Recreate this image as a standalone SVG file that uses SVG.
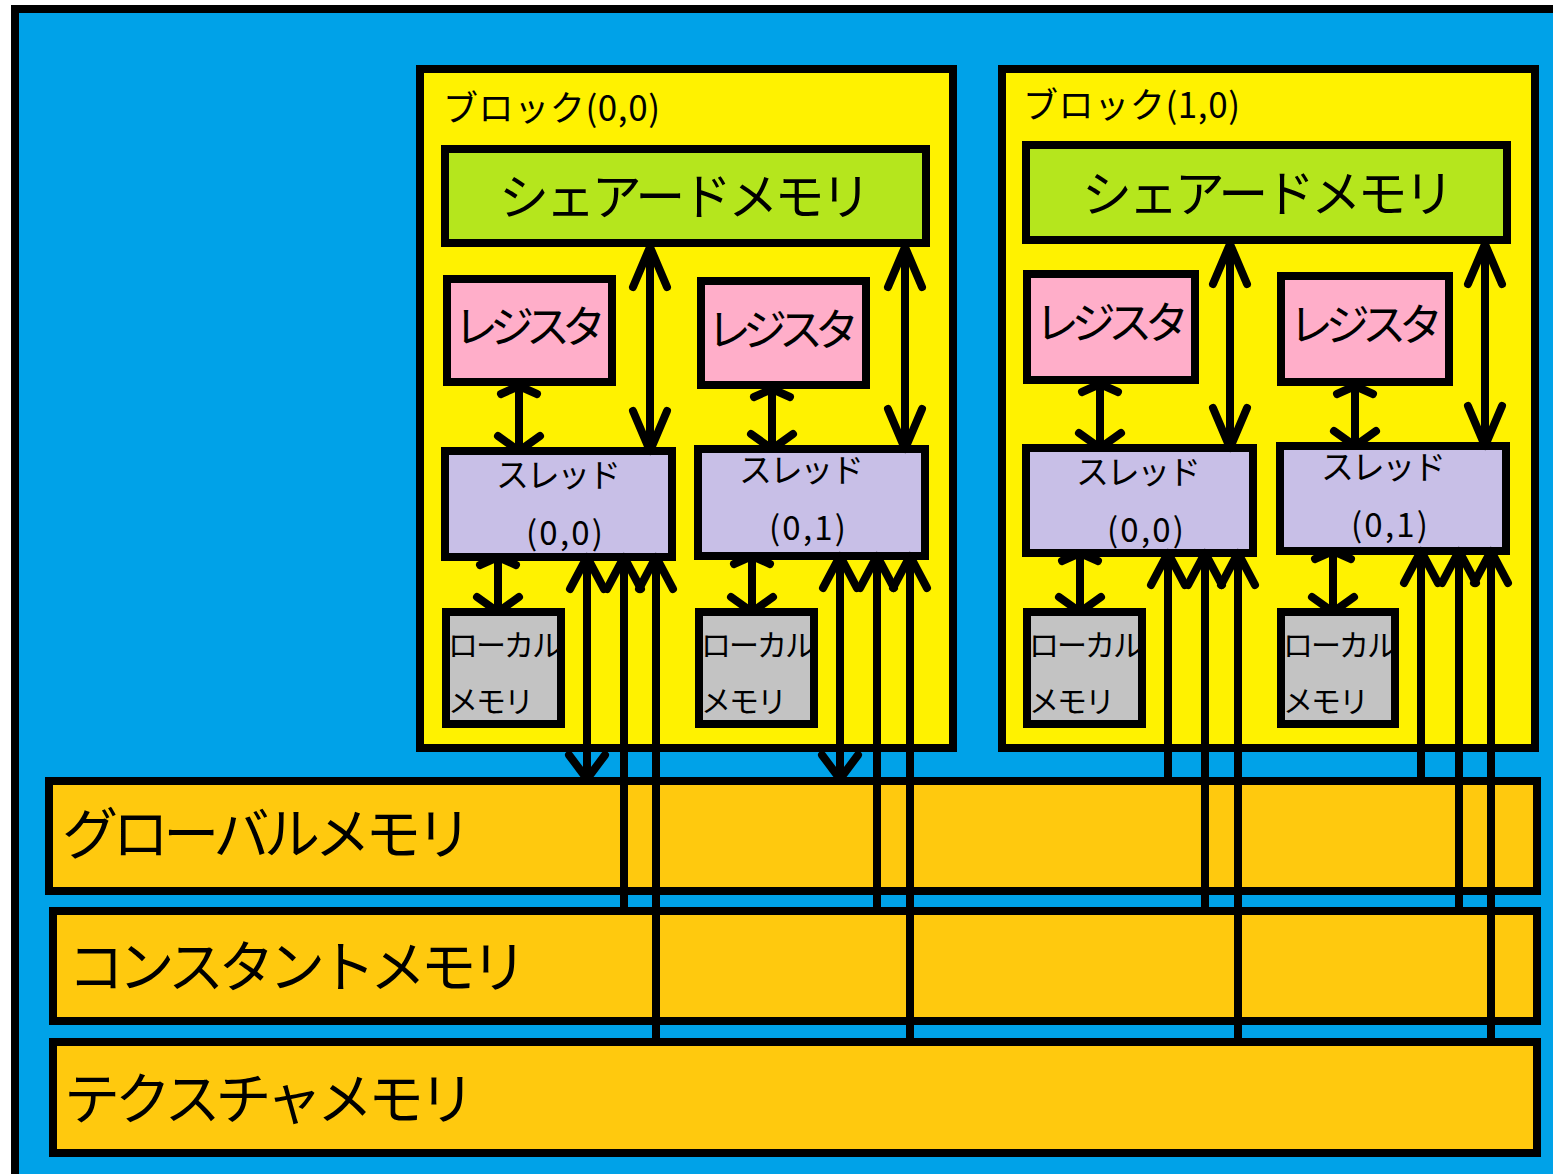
<svg xmlns="http://www.w3.org/2000/svg" width="1553" height="1174" viewBox="0 0 1553 1174">
<style>
text{font-family:"Noto Sans CJK JP","Noto Sans",sans-serif;fill:#000}
.box{stroke:#000;stroke-width:8}
.edge{fill:none;stroke:#000;stroke-width:8}
.blk{fill:#FFF200}
.sh{fill:#B5E61D}
.rg{fill:#FFAEC9}
.th{fill:#C8BFE7}
.lm{fill:#C3C3C3}
.mem{fill:#FFC90E}
.lbl{font-size:35px}
.shT{font-size:50px}
.rgT{font-size:44px}
.thT{font-size:33px}
.lmT{font-size:30px}
.memT{font-size:56px}
.c line{stroke:#000;stroke-width:8;stroke-linecap:round}
</style>
<defs>
<marker id="tall" markerUnits="userSpaceOnUse" orient="auto-start-reverse" refX="0" refY="0" markerWidth="60" markerHeight="60" viewBox="-50 -30 60 60" overflow="visible"><path d="M-40,-17 L0,0 L-40,17" fill="none" stroke="#000" stroke-width="8" stroke-linecap="round" stroke-linejoin="round"/></marker>
<marker id="mid" markerUnits="userSpaceOnUse" orient="auto-start-reverse" refX="0" refY="0" markerWidth="60" markerHeight="60" viewBox="-50 -30 60 60" overflow="visible"><path d="M-32,-17 L0,0 L-32,17" fill="none" stroke="#000" stroke-width="8" stroke-linecap="round" stroke-linejoin="round"/></marker>
<marker id="down" markerUnits="userSpaceOnUse" orient="auto-start-reverse" refX="0" refY="0" markerWidth="60" markerHeight="60" viewBox="-50 -30 60 60" overflow="visible"><path d="M-24,-18 L0,0 L-24,18" fill="none" stroke="#000" stroke-width="8" stroke-linecap="round" stroke-linejoin="round"/></marker>
<marker id="vee" markerUnits="userSpaceOnUse" orient="auto-start-reverse" refX="0" refY="0" markerWidth="60" markerHeight="60" viewBox="-50 -30 60 60" overflow="visible"><path d="M-15,-21 L0,0 L-15,21" fill="none" stroke="#000" stroke-width="8" stroke-linecap="round" stroke-linejoin="round"/></marker>
<marker id="flat" markerUnits="userSpaceOnUse" orient="auto-start-reverse" refX="0" refY="0" markerWidth="60" markerHeight="60" viewBox="-50 -30 60 60" overflow="visible"><path d="M-8,-18 L0,0 L-8,18" fill="none" stroke="#000" stroke-width="8" stroke-linecap="round" stroke-linejoin="round"/></marker>
</defs>
<rect x="0" y="0" width="1553" height="1174" fill="#fff"/>
<rect id="device" x="15" y="9" width="1600" height="1200" fill="#00A2E8" class="box"/>

<g id="global-memory"><rect x="49" y="781" width="1488" height="110" class="box mem"/><text class="memT" x="62" y="854" textLength="410">グローバルメモリ</text></g>
<g id="constant-memory"><rect x="53" y="911" width="1484" height="110" class="box mem"/><text class="memT" x="68" y="987" textLength="459">コンスタントメモリ</text></g>
<g id="texture-memory"><rect x="53" y="1042" width="1484" height="111" class="box mem"/><text class="memT" x="64" y="1119" textLength="411">テクスチャメモリ</text></g>

<g id="block-0-0">
<rect x="420" y="69" width="533" height="679" class="box blk"/>
<text class="lbl" x="443" y="121" textLength="217">ブロック(0,0)</text>
</g>
<g id="block-1-0">
<rect x="1002" y="69" width="533" height="679" class="box blk"/>
<text class="lbl" x="1023" y="118" textLength="217">ブロック(1,0)</text>
</g>

<g id="b0-shared"><rect x="445" y="149" width="481" height="94" class="box sh"/><text class="shT" x="499" y="215" textLength="372">シェアードメモリ</text></g>
<g id="b0-reg0"><rect x="447" y="279" width="165" height="103" class="box rg"/><text class="rgT" x="454" y="343" textLength="152">レジスタ</text></g>
<g id="b0-reg1"><rect x="701" y="281" width="165" height="104" class="box rg"/><text class="rgT" x="707" y="346" textLength="152">レジスタ</text></g>
<g id="b0-thread0"><rect x="445" y="451" width="227" height="106" class="box th"/><text class="thT" x="496" y="487" textLength="125">スレッド</text><text class="thT" x="526" y="545" textLength="77">(0,0)</text></g>
<g id="b0-thread1"><rect x="698" y="449" width="227" height="107" class="box th"/><text class="thT" x="739" y="482" textLength="125">スレッド</text><text class="thT" x="769" y="540" textLength="77">(0,1)</text></g>
<g id="b0-local0"><rect x="446" y="612" width="115" height="112" class="lm"/><text class="lmT" x="448" y="656" textLength="114">ローカル</text><text class="lmT" x="448" y="712" textLength="86">メモリ</text><rect x="446" y="612" width="115" height="112" class="edge"/></g>
<g id="b0-local1"><rect x="699" y="612" width="115" height="112" class="lm"/><text class="lmT" x="701" y="656" textLength="114">ローカル</text><text class="lmT" x="701" y="712" textLength="86">メモリ</text><rect x="699" y="612" width="115" height="112" class="edge"/></g>

<g id="b1-shared"><rect x="1026" y="145" width="481" height="95" class="box sh"/><text class="shT" x="1082" y="212" textLength="372">シェアードメモリ</text></g>
<g id="b1-reg0"><rect x="1027" y="274" width="168" height="106" class="box rg"/><text class="rgT" x="1035" y="339" textLength="154">レジスタ</text></g>
<g id="b1-reg1"><rect x="1281" y="276" width="168" height="106" class="box rg"/><text class="rgT" x="1289" y="341" textLength="154">レジスタ</text></g>
<g id="b1-thread0"><rect x="1026" y="448" width="227" height="105" class="box th"/><text class="thT" x="1076" y="484" textLength="125">スレッド</text><text class="thT" x="1107" y="542" textLength="77">(0,0)</text></g>
<g id="b1-thread1"><rect x="1280" y="446" width="226" height="105" class="box th"/><text class="thT" x="1321" y="479" textLength="125">スレッド</text><text class="thT" x="1351" y="537" textLength="77">(0,1)</text></g>
<g id="b1-local0"><rect x="1027" y="612" width="115" height="112" class="lm"/><text class="lmT" x="1029" y="656" textLength="114">ローカル</text><text class="lmT" x="1029" y="712" textLength="86">メモリ</text><rect x="1027" y="612" width="115" height="112" class="edge"/></g>
<g id="b1-local1"><rect x="1281" y="612" width="114" height="112" class="lm"/><text class="lmT" x="1283" y="656" textLength="114">ローカル</text><text class="lmT" x="1283" y="712" textLength="86">メモリ</text><rect x="1281" y="612" width="114" height="112" class="edge"/></g>

<g id="connectors" class="c">
<line x1="650" y1="247" x2="650" y2="451" marker-start="url(#tall)" marker-end="url(#tall)"/>
<line x1="905" y1="247" x2="905" y2="449" marker-start="url(#tall)" marker-end="url(#tall)"/>
<line x1="1230" y1="244" x2="1230" y2="448" marker-start="url(#tall)" marker-end="url(#tall)"/>
<line x1="1485" y1="244" x2="1485" y2="446" marker-start="url(#tall)" marker-end="url(#tall)"/>
<line x1="519" y1="386" x2="519" y2="451" marker-start="url(#flat)" marker-end="url(#vee)"/>
<line x1="772" y1="389" x2="772" y2="449" marker-start="url(#flat)" marker-end="url(#vee)"/>
<line x1="1100" y1="384" x2="1100" y2="448" marker-start="url(#flat)" marker-end="url(#vee)"/>
<line x1="1355" y1="386" x2="1355" y2="446" marker-start="url(#flat)" marker-end="url(#vee)"/>
<line x1="498" y1="557" x2="498" y2="612" marker-start="url(#flat)" marker-end="url(#vee)"/>
<line x1="752" y1="556" x2="752" y2="612" marker-start="url(#flat)" marker-end="url(#vee)"/>
<line x1="1080" y1="553" x2="1080" y2="612" marker-start="url(#flat)" marker-end="url(#vee)"/>
<line x1="1333" y1="551" x2="1333" y2="612" marker-start="url(#flat)" marker-end="url(#vee)"/>
<line x1="587" y1="557" x2="587" y2="779" marker-start="url(#mid)" marker-end="url(#down)"/>
<line x1="624" y1="557" x2="624" y2="911" marker-start="url(#mid)"/>
<line x1="656" y1="557" x2="656" y2="1042" marker-start="url(#mid)"/>
<line x1="840" y1="556" x2="840" y2="779" marker-start="url(#mid)" marker-end="url(#down)"/>
<line x1="877" y1="556" x2="877" y2="911" marker-start="url(#mid)"/>
<line x1="910" y1="556" x2="910" y2="1042" marker-start="url(#mid)"/>
<line x1="1168" y1="553" x2="1168" y2="781" marker-start="url(#mid)"/>
<line x1="1205" y1="553" x2="1205" y2="911" marker-start="url(#mid)"/>
<line x1="1238" y1="553" x2="1238" y2="1042" marker-start="url(#mid)"/>
<line x1="1421" y1="551" x2="1421" y2="781" marker-start="url(#mid)"/>
<line x1="1459" y1="551" x2="1459" y2="911" marker-start="url(#mid)"/>
<line x1="1491" y1="551" x2="1491" y2="1042" marker-start="url(#mid)"/>
</g>
</svg>
